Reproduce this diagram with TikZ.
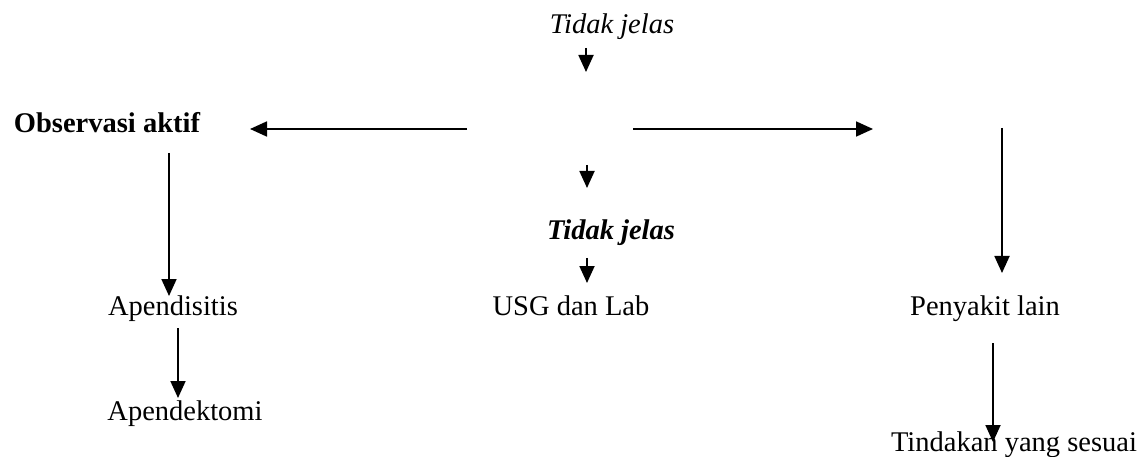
\documentclass[tikz,border=0pt]{standalone}
\usepackage{fontspec}
\setmainfont{Liberation Serif}
\usetikzlibrary{arrows.meta}
\tikzset{
  lbl/.style={anchor=base, inner sep=0pt, font=\fontsize{28.5}{34}\selectfont},
  arr/.style={line width=1.8pt, -{Triangle[length=17pt,width=15pt]}},
}
\begin{document}
\begin{tikzpicture}[x=1pt,y=-1pt]
\useasboundingbox (0,0) rectangle (1146,457);

% text nodes
\node[lbl, font=\fontsize{28.5}{34}\selectfont\itshape] (tj1) at (612,34) {Tidak jelas};
\node[lbl, font=\fontsize{28.5}{34}\selectfont\bfseries] (obs) at (107,133) {Observasi aktif};
\node[lbl, font=\fontsize{28.5}{34}\selectfont\bfseries\itshape] (tj2) at (611,240) {Tidak jelas};
\node[lbl] (usg) at (571,315) {USG dan Lab};
\node[lbl] (apd) at (173,315) {Apendisitis};
\node[lbl] (apk) at (185,420) {Apendektomi};
\node[lbl] (pen) at (985,315) {Penyakit lain};
\node[lbl] (tin) at (1014,451) {Tindakan yang sesuai};

% arrow end points
\coordinate (a1s) at (586,48);  \coordinate (a1e) at (586,72);
\coordinate (hl)  at (467,129); \coordinate (hle) at (250,129);
\coordinate (hr)  at (633,129); \coordinate (hre) at (873,129);
\coordinate (a2s) at (587,165); \coordinate (a2e) at (587,188);
\coordinate (a3s) at (587,258); \coordinate (a3e) at (587,283);
\coordinate (l1s) at (169,153); \coordinate (l1e) at (169,296);
\coordinate (l2s) at (178,328); \coordinate (l2e) at (178,398);
\coordinate (r1s) at (1002,128); \coordinate (r1e) at (1002,273);
\coordinate (r2s) at (993,343); \coordinate (r2e) at (993,442);

% connectors
\draw[arr] (a1s) -- (a1e);
\draw[arr] (hl) -- (hle);
\draw[arr] (hr) -- (hre);
\draw[arr] (a2s) -- (a2e);
\draw[arr] (a3s) -- (a3e);
\draw[arr] (l1s) -- (l1e);
\draw[arr] (l2s) -- (l2e);
\draw[arr] (r1s) -- (r1e);
\draw[arr] (r2s) -- (r2e);
\end{tikzpicture}
\end{document}
